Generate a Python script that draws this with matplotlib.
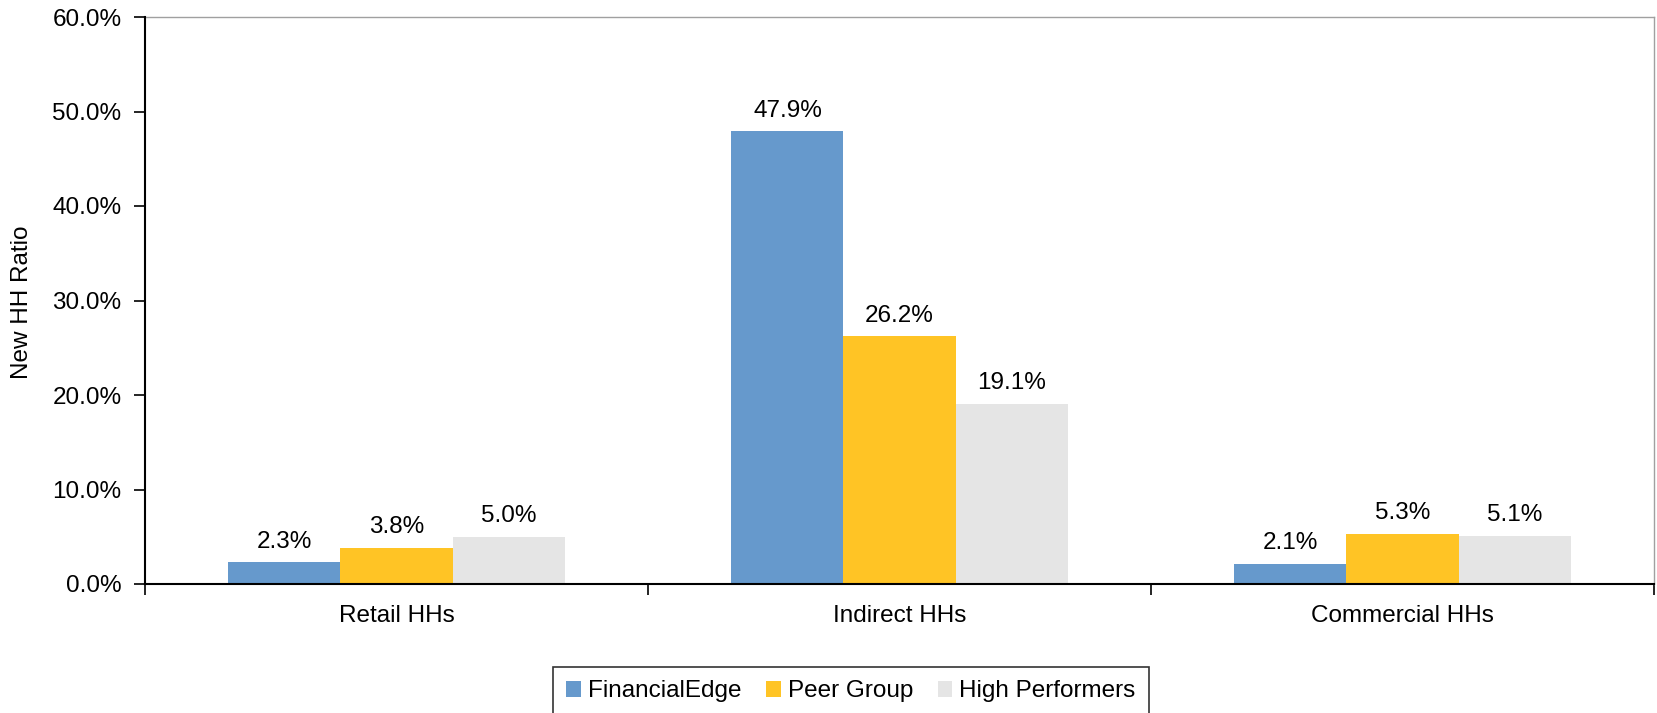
import matplotlib
matplotlib.use("Agg")
import matplotlib.pyplot as plt
import numpy as np
from matplotlib.ticker import PercentFormatter, FixedLocator

plt.rcParams['font.family'] = ['Liberation Sans', 'DejaVu Sans']

categories = ["Retail HHs", "Indirect HHs", "Commercial HHs"]
series_names = ["FinancialEdge", "Peer Group", "High Performers"]
financialedge = [2.3, 47.9, 2.1]
peer_group = [3.8, 26.2, 5.3]
high_performers = [5.0, 19.1, 5.1]
colors = ["#6699CC", "#FFC425", "#E5E5E5"]

fig = plt.figure(figsize=(16.57, 7.13), dpi=100)
ax = fig.add_axes([145/1657, 1 - 584/713, (1654 - 145)/1657, (584 - 17)/713])

x = np.arange(len(categories))
w = 0.2227
fs = 17.5
for i, (vals, name, c) in enumerate(zip([financialedge, peer_group, high_performers], series_names, colors)):
    bars = ax.bar(x + (i - 1) * w, vals, width=w, color=c, label=name, zorder=2)
    for b, v in zip(bars, vals):
        ax.annotate(f"{v:.1f}%", (b.get_x() + b.get_width() / 2, v), xytext=(0, 7),
                    textcoords="offset points", ha="center", va="bottom", fontsize=fs)

ax.set_xlim(-0.5, 2.5)
ax.set_ylim(0, 60)
ax.set_yticks(np.arange(0, 61, 10))
ax.yaxis.set_major_formatter(PercentFormatter(decimals=1))
ax.set_xticks(x)
ax.set_xticklabels(categories, fontsize=fs)
ax.xaxis.set_minor_locator(FixedLocator([-0.5, 0.5, 1.5, 2.5]))
ax.tick_params(axis='x', which='major', length=0, pad=15)
ax.tick_params(axis='x', which='minor', length=8, width=1.2, direction='out')
ax.tick_params(axis='y', which='major', length=8, width=1.2, labelsize=fs, pad=9)
fig.text(22/1657, 1 - 302/713, "New HH Ratio", rotation=90, ha='center', va='center', fontsize=fs)

for s in ['left', 'bottom']:
    ax.spines[s].set_color('black')
    ax.spines[s].set_linewidth(1.5)
    ax.spines[s].set_zorder(3)
for s in ['top', 'right']:
    ax.spines[s].set_color('#A0A0A0')
    ax.spines[s].set_linewidth(1.0)

leg = fig.legend(loc='upper center', bbox_to_anchor=(851/1657, 1 - 667/713), ncol=3, fontsize=fs,
                 frameon=True, fancybox=False, edgecolor='black', handlelength=0.6,
                 handleheight=0.6, handletextpad=0.3, columnspacing=1.0, borderpad=0.55,
                 borderaxespad=0)
leg.get_frame().set_linewidth(1.2)

fig.savefig("out.png", dpi=100)
